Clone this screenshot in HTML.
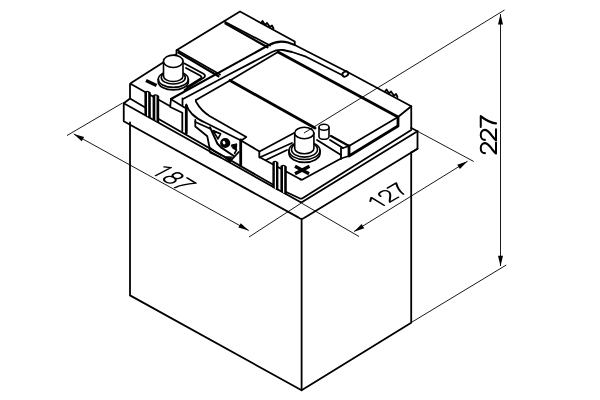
<!DOCTYPE html>
<html><head><meta charset="utf-8">
<style>
html,body{margin:0;padding:0;background:#fff;}
body{width:600px;height:400px;overflow:hidden;font-family:"Liberation Sans",sans-serif;}
svg{display:block}
.m{fill:none;stroke:#000;stroke-width:1.8;stroke-linecap:round;stroke-linejoin:round}
.k{fill:none;stroke:#000;stroke-width:2.8;stroke-linecap:round;stroke-linejoin:round}
.t{fill:none;stroke:#000;stroke-width:0.9;stroke-linecap:butt}
.w{fill:#fff;stroke:#000;stroke-width:1.6;stroke-linejoin:round}
.d{fill:none;stroke:#000;stroke-width:0.078;stroke-linecap:round;stroke-linejoin:round}
</style></head><body>
<svg width="600" height="400" viewBox="0 0 600 400">
<rect width="600" height="400" fill="#fff"/>
<defs>
<path id="g1" d="M0.12,-0.57 L0.31,-0.716 L0.31,0"/>
<path id="g2" d="M0.06,-0.52 C0.06,-0.64 0.15,-0.716 0.27,-0.716 C0.40,-0.716 0.48,-0.63 0.48,-0.52 C0.48,-0.40 0.38,-0.32 0.25,-0.20 C0.15,-0.11 0.06,-0.04 0.05,0 L0.50,0"/>
<path id="g7" d="M0.05,-0.716 L0.50,-0.716 C0.35,-0.50 0.22,-0.25 0.20,0"/>
<path id="g8" d="M0.278,-0.716 C0.38,-0.716 0.45,-0.65 0.45,-0.55 C0.45,-0.45 0.38,-0.385 0.278,-0.385 C0.176,-0.385 0.106,-0.45 0.106,-0.55 C0.106,-0.65 0.176,-0.716 0.278,-0.716 Z M0.278,-0.385 C0.40,-0.385 0.49,-0.31 0.49,-0.195 C0.49,-0.08 0.40,0 0.278,0 C0.156,0 0.066,-0.08 0.066,-0.195 C0.066,-0.31 0.156,-0.385 0.278,-0.385 Z"/>
</defs>

<!-- ===== dimension / extension lines ===== -->
<g class="t">
<!-- vertical 227 -->
<path d="M500.5,14 V266"/>
<path d="M411.25,322.5 L506.25,265"/>
<!-- 187 -->
<path d="M67,135.5 L122.5,103"/>
<path d="M73.75,134 L248.75,230.5"/>
<path d="M249,237 L301.4,203"/>
<!-- 127 -->
<path d="M354,231.5 L467.5,161.25"/>
<path d="M301.4,203 L359,236.5"/>
<path d="M418,131.5 L473.75,161.5"/>
</g>
<!-- arrows -->
<g fill="#000" stroke="none">
<path d="M73.75,134.00 L81.74,141.26 L84.15,136.88 Z"/>
<path d="M248.75,230.50 L240.76,223.24 L238.35,227.62 Z"/>
<path d="M354.00,231.70 L364.24,228.29 L361.60,224.04 Z"/>
<path d="M467.50,161.25 L457.26,164.66 L459.90,168.91 Z"/>
<path d="M500.50,13.90 L498.00,24.40 L503.00,24.40 Z"/>
<path d="M500.50,266.30 L503.00,255.80 L498.00,255.80 Z"/>
</g>

<!-- ===== case body ===== -->
<g class="m">
<path d="M130,122.5 V295.4 L301.6,390.3 L411.2,322.7 V152.5"/>
<path d="M301.6,219 V390.3"/>
<!-- shoulder -->
<path d="M129.75,98.75 L123.75,103.25 V121.25 L298.3,217.4 Q301.6,220.3 304.9,217.4 L417.5,148.75 V131.25"/>
<path d="M123.75,103.25 L299.8,201.8 Q301.2,202.7 302.6,201.8 L417.5,131.25"/>
<path d="M417.5,148.75 L411.3,152.5"/>
<path d="M411.25,128 L417.5,131.25"/>
<!-- lid bottom line -->
<path d="M130,98.5 L145.2,107.5 M158.6,119 L272.8,184.5 M286.2,192 L299.5,198.2 Q301,199.2 302.5,198.2 L411.25,130"/>
<!-- lid outer -->
<path d="M130,98 V84.5 Q130,83.5 131,83 L176.5,54 V50.25 L240,11.5 L294.75,41.5 V45 L348,72.3 L411.25,106.25 V128.75"/>
<path d="M130.5,83.8 L170.2,106.3 L171,99.25"/>
</g>


<!-- ===== lid top ===== -->
<g class="m">
<!-- back cover double line -->
<path d="M224.3,21.5 L270,45.5"/>
<path d="M225.5,23.6 L267.5,47.3" stroke-width="2.2"/>
<!-- back edge clips -->
<path d="M261,23 L262.5,21 L265,25 L267,23 L270,27 L272,25.5 L273.5,28.5" />
<path d="M385,91.5 L386.5,89.5 L389,93.5 L391,91.5 L394,95.5 L396,94 L397.5,97" />
<!-- raised lid left edge (thick double) -->
<path d="M177,50 L220,74.5"/>
<path d="M178.5,52.6 L218.5,76.3" stroke-width="2.2"/>
<!-- handle outer -->
<path d="M171,99 L268,45.5 Q278,39.8 288,42.5 L294.75,45" stroke-width="2.1"/>
<ellipse cx="345.3" cy="74" rx="3.2" ry="2.3" transform="rotate(-30 345.3 74)"/>
<!-- handle middle -->
<path d="M183,99 L228,75 L272,52 Q277,49.3 283,50 L292,52 L306,56.7 L343,75.5"/>
<!-- handle lower -->
<path d="M196,100 L230,80.5 L278,52"/>
</g>
<g class="k">
<!-- groove A -->
<path d="M230,80.5 L315,128"/>
<!-- groove B -->
<path d="M278,52 L398,117 V126 L349,156 V146"/>
</g>
<g class="m">
<path d="M411.25,106.25 L398,117"/>
<path d="M349,146 L331,136" stroke-width="2.2"/>
<path d="M349,146 L398,117"/>
</g>

<!-- ===== left terminal ===== -->
<g class="m">
<!-- recess inner edges -->
<path d="M184.5,63.5 L203,73.5 Q206.5,75.5 204,77.5 L184.5,90"/>
<path d="M186,68 L200,75.5 Q202.5,77 200.5,78.5 L187,87"/>
<!-- raised lid front-left corner -->
<path d="M171,99.25 L184.5,107.5"/>
<path d="M182.5,98.5 V105.5"/>
<!-- post base rings -->
<ellipse cx="173.3" cy="79.2" rx="15" ry="8.2" class="w"/>
<path d="M158.3,79.2 V81.7 A15,8.2 0 0 0 188.3,81.7 V79.2"/>
<ellipse cx="173.3" cy="77.5" rx="12" ry="6.5" class="w"/>
<!-- post -->
<path class="w" d="M163.5,61.5 V76 A9.75,5.5 0 0 0 183,76 V61.5 Z"/>
<ellipse cx="173.25" cy="61.3" rx="9.75" ry="6.2" class="w"/>
</g>
<path d="M146,80.5 L156.5,85.5" stroke="#000" stroke-width="3.2" fill="none"/>
<g class="k"><path d="M186.3,106 V133"/></g>
<path class="m" d="M170.2,107 L182.3,112.8 V131"/>
<!-- vent bars left -->
<g>
<path d="M144.4,114.8 V92 Q147.5,89.2 150.8,92.5 V118.4 Z" fill="#000"/>
<path d="M147,115.8 V92.4 Q147.6,91.7 148.2,92.5 V116.5 Z" fill="#fff"/>
<path d="M152.6,119.2 V95.5 Q155.8,92.8 159.2,96 V122.8 Z" fill="#000"/>
<path d="M155.3,120.3 V95.8 Q155.9,95.1 156.5,95.9 V121 Z" fill="#fff"/>
</g>

<!-- ===== lid front / latch ===== -->
<g class="m">
<path d="M196,100 Q195.3,101.3 196.5,102.5 Q201,110.5 209.5,116 L246.3,137 L241,140.7"/>
<path d="M186.25,104.5 Q188,110 192,114 Q197,119 205,122.5 L241,140.5 L259.5,151.5 L294,133"/>
<path d="M259.3,152 V157 L300,179"/>
<path d="M259.5,157.5 L292,143"/>
<!-- strap lower -->
<path d="M195.3,120 V126.5 L207.3,136.3 L209.5,147.5 L214,151 L222,155.5"/>
<path d="M195.3,122 L210.3,128.8"/>
</g>
<g class="k"><path d="M240.7,140 V166"/></g>
<!-- latch details -->
<g stroke="#000" stroke-linejoin="round" stroke-linecap="round" fill="none">
<path d="M210,127.3 L217.5,143.8 L221,147.3 L233.8,156" stroke-width="2"/>
<path d="M213,130.6 L220.6,133.9 L218,138.9 Z" stroke-width="1.7" fill="#fff"/>
<circle cx="225.2" cy="143" r="4.3" fill="#000" stroke-width="1.6"/>
<ellipse cx="224" cy="142.6" rx="1.3" ry="1.9" fill="#fff" stroke="none" transform="rotate(-25 224 142.6)"/>
<path d="M231.5,145 L236.8,143.8 L236.2,150 L233,148.5 Z" fill="#000" stroke-width="1"/>
<path d="M236.5,150 L234.5,153.5" stroke-width="1.6"/>
<path d="M223.8,156.3 L230,161.3 L238.8,152" stroke-width="1.8"/>
<path d="M226.5,156.8 L230.2,159.8 L232.2,157.2 Z" fill="#000" stroke-width="0.8"/>
<path d="M209.4,148.8 L210,152.5 L221.3,157.8" stroke-width="1.5"/>
</g>

<!-- ===== right terminal ===== -->
<g class="m">
<!-- platform front corner + right edge -->
<path d="M300,179 Q301.5,180.3 303,179.3 L341,158.5 L349,156"/>
<!-- recess steps -->
<path d="M330,140 L343,148"/>
<path d="M317,140 L341,155 V159"/>
<path d="M341,148 V155"/>
<path d="M343,148 L349,146"/>
<!-- recess inner front/left -->
<path d="M266,160 L287,150"/>
<!-- base rings -->
<ellipse cx="304.5" cy="150.5" rx="15.5" ry="9" class="w"/>
<path d="M289,150.5 V153.3 A15.5,9 0 0 0 320,153.3 V150.5"/>
<ellipse cx="304.5" cy="149.5" rx="13" ry="7.6" class="w"/>
<!-- post -->
<path class="w" d="M294.7,133 V148.5 A9.6,5.3 0 0 0 313.9,148.5 V133 Z"/>
<ellipse cx="304.3" cy="133" rx="9.6" ry="5.7" class="w"/>
<!-- small post -->
<path class="w" d="M319,127.5 V136.5 A5,2.8 0 0 0 329,136.5 V127.5 Z"/>
<ellipse cx="324" cy="127.3" rx="5" ry="3" class="w"/>
</g>
<path class="t" d="M304,133 L504.5,10"/>
<!-- plus mark -->
<g stroke="#000" stroke-width="3.3" fill="none" stroke-linecap="butt">
<path d="M295,166.2 L309,173.8"/>
<path d="M295,173.8 L309.5,166.2"/>
</g>
<!-- vent bars right -->
<g>
<path d="M272.4,187.4 V162 Q275.3,159.3 278.4,162.5 V190.8 Z" fill="#000"/>
<path d="M274.8,188.4 V162.3 Q275.4,161.6 276,162.4 V189.1 Z" fill="#fff"/>
<path d="M280.4,191.4 V166 Q283.5,163.3 286.8,166.5 V195 Z" fill="#000"/>
<path d="M283,192.6 V166.3 Q283.6,165.6 284.2,166.4 V193.3 Z" fill="#fff"/>
</g>
<!-- ===== texts ===== -->
<g class="d" transform="matrix(0.8725,0.4886,0.846,-0.533,0,0)"></g>
<g transform="translate(496,154.6) rotate(-90) scale(23.8,21.3)" class="d" style="stroke-width:0.095">
<use href="#g2" x="0"/><use href="#g2" x="0.556"/><use href="#g7" x="1.112"/>
</g>
<g transform="matrix(19.1,12.0,-21.2,11.2,149.8,171.9)" class="d">
<use href="#g1" x="0"/><use href="#g8" x="0.556"/><use href="#g7" x="1.112"/>
</g>
<g transform="matrix(19.1,-11.2,18.1,11.0,378.3,208.9)" class="d">
<use href="#g1" x="0"/><use href="#g2" x="0.556"/><use href="#g7" x="1.112"/>
</g>
</svg>
</body></html>
